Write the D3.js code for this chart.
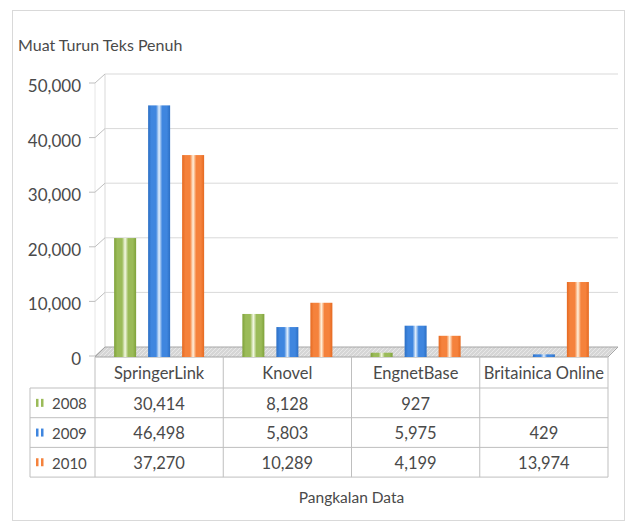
<!DOCTYPE html>
<html>
<head>
<meta charset="utf-8">
<script src="https://cdn.jsdelivr.net/npm/d3@7"></script>
<style>
  body { margin: 0; background: #fff; }
  text { font-family: Lato, "Open Sans", sans-serif; fill: #4a4a4a; }
</style>
</head>
<body>
<div id="chart"></div>
<script>
// categories and series
const categories = ["SpringerLink", "Knovel", "EngnetBase", "Britainica Online"];
const years = ["2008", "2009", "2010"];

// values printed in the data table
const table2008 = [30414, 8128, 927, null];
const table2009 = [46498, 5803, 5975, 429];
const table2010 = [37270, 10289, 4199, 13974];

// column heights as drawn in the picture (they do not all match the table)
const bars2008 = [21600, 7700, 600, null];
const bars2009 = [45900, 5300, 5550, 300];
const bars2010 = [36800, 9750, 3700, 13550];

const yTicks = [0, 10000, 20000, 30000, 40000, 50000];

const colors = { "2008": "#9bbb59", "2009": "#3f86df", "2010": "#f5823c" };
const lights = { "2008": "#f4f8e4", "2009": "#e2effc", "2010": "#fff1dc" };
const darks = { "2008": "#7fa23a", "2009": "#2c6fc4", "2010": "#e56a22" };

const width = 629;
const height = 529;
const depth = { dx: 10, dy: -9 };   // 3D back wall offset
const groupW = 90;

const svg = d3.select("#chart")
    .append("svg")
    .attr("width", width)
    .attr("height", height);

// outer frame
svg.append("rect")
    .attr("x", 12.5).attr("y", 10.5)
    .attr("width", 612).attr("height", 510)
    .attr("fill", "none")
    .attr("stroke", "#d9d9d9");

const xScale = d3.scaleBand()
    .domain(categories)
    .range([95, 608]);

const xInner = d3.scaleBand()
    .domain(years)
    .range([0, groupW])
    .paddingInner(0.353);

const yScale = d3.scaleLinear()
    .domain([0, 50000])
    .range([356, 83]);

const defs = svg.append("defs");
years.forEach(y => {
    const g = defs.append("linearGradient")
        .attr("id", "grad" + y)
        .attr("x1", "0%").attr("x2", "100%")
        .attr("y1", "0%").attr("y2", "0%");
    [[0, darks[y]], [0.15, colors[y]], [0.36, colors[y]], [0.5, lights[y]],
     [0.64, colors[y]], [0.85, colors[y]], [1, darks[y]]].forEach(s => {
        g.append("stop").attr("offset", s[0]).attr("stop-color", s[1]);
    });
});

const hatch = defs.append("pattern")
    .attr("id", "hatch")
    .attr("width", 4).attr("height", 4)
    .attr("patternUnits", "userSpaceOnUse");
hatch.append("rect").attr("width", 4).attr("height", 4).attr("fill", "#d6d6d6");
hatch.append("path").attr("d", "M0,4 L4,0").attr("stroke", "#e8e8e8").attr("stroke-width", 1);

const x0 = xScale.range()[0];
const x1 = xScale.range()[1];

// back wall gridlines
svg.selectAll(".grid")
    .data(yTicks.filter(d => d > 0))
    .enter()
    .append("line")
    .attr("x1", x0 + depth.dx)
    .attr("x2", x1 + depth.dx)
    .attr("y1", d => yScale(d) + depth.dy)
    .attr("y2", d => yScale(d) + depth.dy)
    .attr("stroke", "#d9d9d9")
    .attr("stroke-width", 1);

// back wall left edge
svg.append("line")
    .attr("x1", x0 + depth.dx).attr("x2", x0 + depth.dx)
    .attr("y1", yScale(50000) + depth.dy).attr("y2", yScale(0) + depth.dy)
    .attr("stroke", "#d9d9d9");

// left axis line (front)
svg.append("line")
    .attr("x1", x0).attr("x2", x0)
    .attr("y1", yScale(50000)).attr("y2", yScale(0))
    .attr("stroke", "#e6e6e6");

// tick marks with slanted connectors
svg.selectAll(".tick")
    .data(yTicks)
    .enter()
    .append("path")
    .attr("d", d => `M${x0 - 6},${yScale(d)} L${x0},${yScale(d)} L${x0 + depth.dx},${yScale(d) + depth.dy}`)
    .attr("fill", "none")
    .attr("stroke", "#bfbfbf");

svg.selectAll(".ylabel")
    .data(yTicks)
    .enter()
    .append("text")
    .attr("x", x0 - 14)
    .attr("y", d => yScale(d) + 3)
    .attr("dy", "0.35em")
    .attr("text-anchor", "end")
    .style("font-size", "17px")
    .text(d => d3.format(",")(d));

// floor
const yz = yScale(0);
svg.append("path")
    .attr("d", `M${x0},${yz + 1} L${x1},${yz + 1} L${x1 + depth.dx},${yz + depth.dy} L${x0 + depth.dx},${yz + depth.dy} Z`)
    .attr("fill", "url(#hatch)")
    .attr("stroke", "#a6a6a6")
    .attr("stroke-width", 1);

// bars
const barSeries = [bars2008, bars2009, bars2010];
years.forEach((y, i) => {
    svg.selectAll(".bar" + y)
        .data(categories.map((c, j) => ({ cat: c, value: barSeries[i][j] }))
            .filter(d => d.value != null))
        .enter()
        .append("rect")
        .attr("x", d => xScale(d.cat) + (xScale.bandwidth() - groupW) / 2 + xInner(y))
        .attr("width", xInner.bandwidth())
        .attr("y", d => yScale(d.value))
        .attr("height", d => yz + 1 - yScale(d.value))
        .attr("fill", "url(#grad" + y + ")");
});

// title
svg.append("text")
    .attr("x", 18)
    .attr("y", 51)
    .style("font-size", "16px")
    .text("Muat Turun Teks Penuh");

// data table
const rowTop = 357;
const headerH = 31;
const rowH = 29.7;
const tableLeft = 30;
const tableRows = [table2008, table2009, table2010];
const lineColor = "#bfbfbf";

const table = svg.append("g");

// horizontal lines
[0, 1, 2, 3].forEach(r => {
    const yy = rowTop + headerH + r * rowH;
    table.append("line")
        .attr("x1", tableLeft).attr("x2", x1)
        .attr("y1", yy).attr("y2", yy)
        .attr("stroke", lineColor);
});

// vertical lines
table.append("line")
    .attr("x1", tableLeft).attr("x2", tableLeft)
    .attr("y1", rowTop + headerH).attr("y2", rowTop + headerH + 3 * rowH)
    .attr("stroke", lineColor);
categories.forEach(c => {
    table.append("line")
        .attr("x1", xScale(c)).attr("x2", xScale(c))
        .attr("y1", rowTop).attr("y2", rowTop + headerH + 3 * rowH)
        .attr("stroke", lineColor);
});
table.append("line")
    .attr("x1", x1).attr("x2", x1)
    .attr("y1", rowTop).attr("y2", rowTop + headerH + 3 * rowH)
    .attr("stroke", lineColor);

// column headers
table.selectAll(".colhead")
    .data(categories)
    .enter()
    .append("text")
    .attr("x", d => xScale(d) + xScale.bandwidth() / 2)
    .attr("y", rowTop + headerH / 2 + 1)
    .attr("dy", "0.35em")
    .attr("text-anchor", "middle")
    .style("font-size", "16.5px")
    .text(d => d);

// rows
years.forEach((y, i) => {
    const cy = rowTop + headerH + i * rowH + rowH / 2;
    // legend key
    [0, 5].forEach(off => {
        table.append("rect")
            .attr("x", 36 + off).attr("y", cy - 4)
            .attr("width", 2.5).attr("height", 8)
            .attr("fill", colors[y]);
    });
    table.append("text")
        .attr("x", 52)
        .attr("y", cy + 1)
        .attr("dy", "0.35em")
        .style("font-size", "15px")
        .text(y);
    table.selectAll(".val" + y)
        .data(categories.map((c, j) => ({ cat: c, value: tableRows[i][j] })))
        .enter()
        .append("text")
        .attr("x", d => xScale(d.cat) + xScale.bandwidth() / 2)
        .attr("y", cy + 1)
        .attr("dy", "0.35em")
        .attr("text-anchor", "middle")
        .style("font-size", "16.5px")
        .text(d => d.value == null ? "" : d3.format(",")(d.value));
});

// x axis title
svg.append("text")
    .attr("x", (x0 + x1) / 2)
    .attr("y", 503)
    .attr("text-anchor", "middle")
    .style("font-size", "15.5px")
    .text("Pangkalan Data");
</script>
</body>
</html>
